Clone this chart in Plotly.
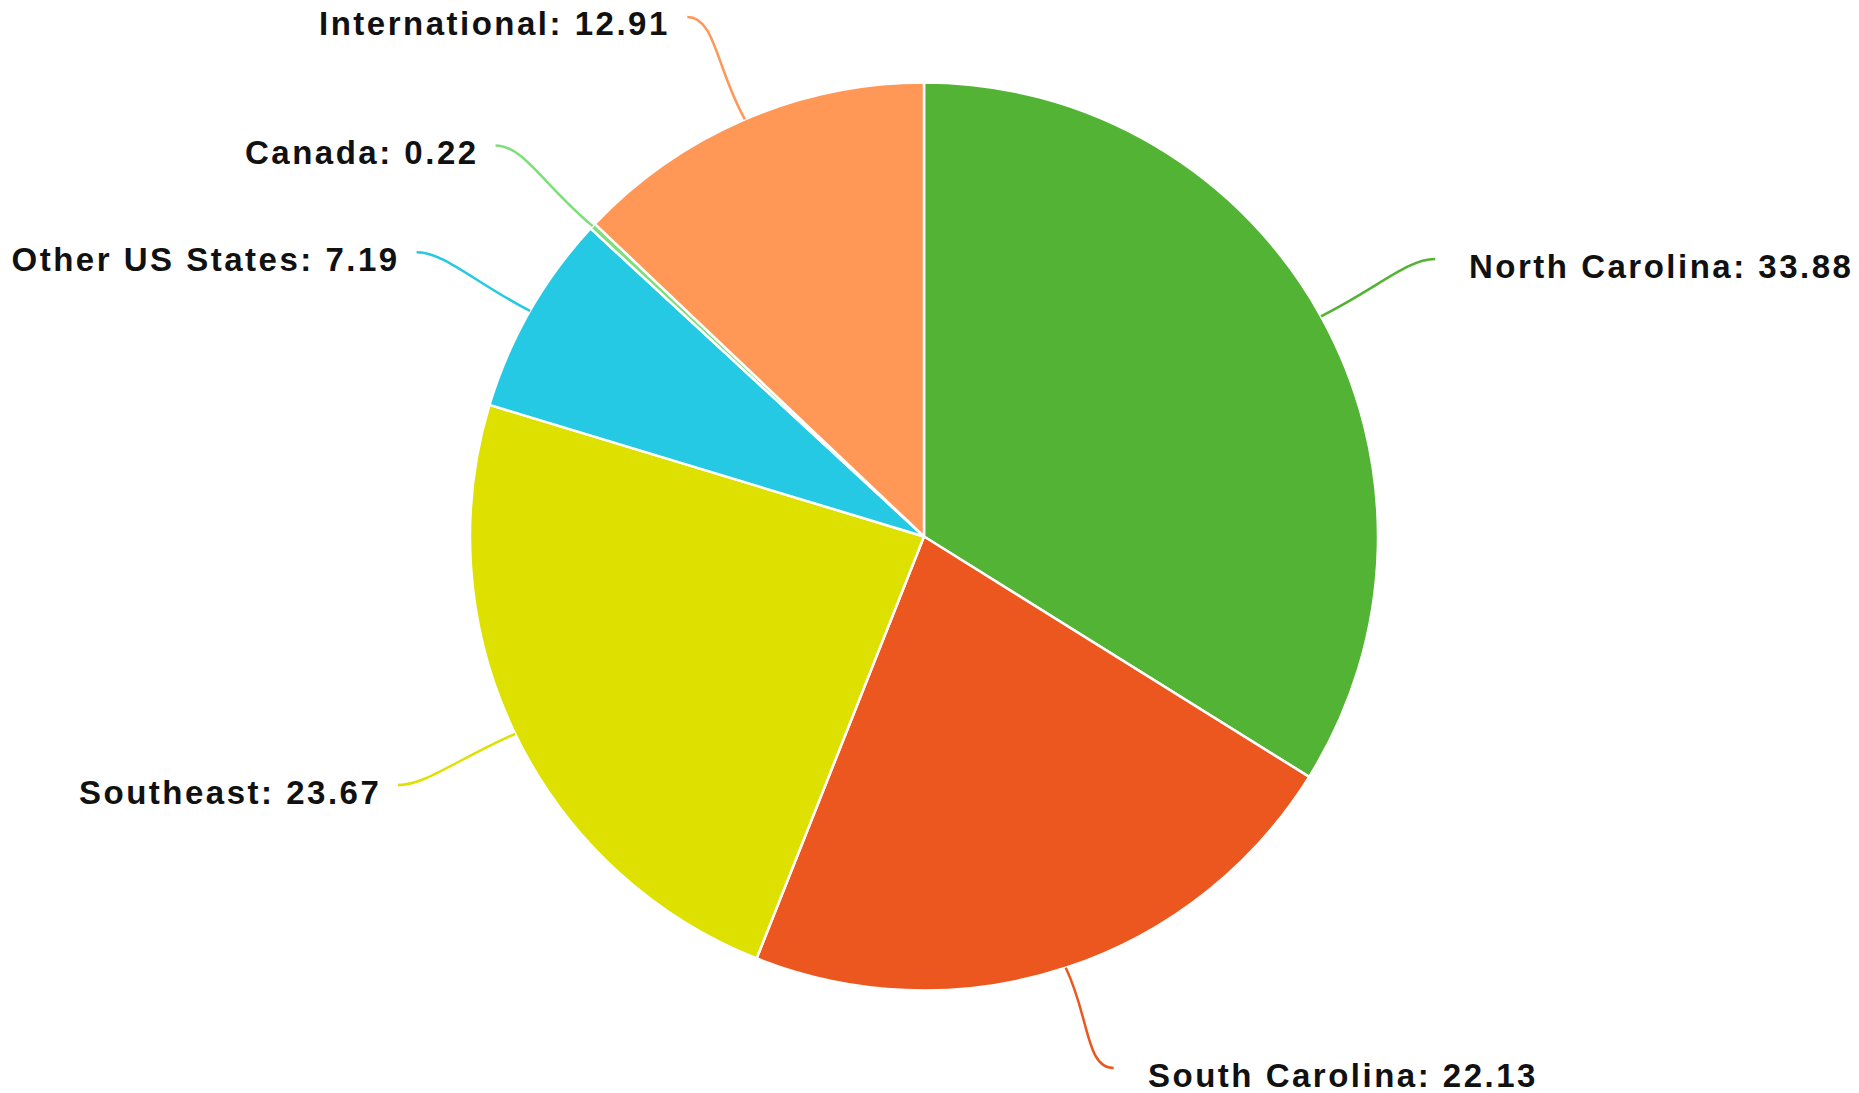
import math
import plotly.graph_objects as go

labels = ["North Carolina", "South Carolina", "Southeast", "Other US States", "Canada", "International"]
values = [33.88, 22.13, 23.67, 7.19, 0.22, 12.91]
colors = ["#52b335", "#eb571e", "#dee000", "#26c9e3", "#7edf7a", "#ff9757"]

W, H = 1859, 1093
CX, CY, R = 924, 536.5, 454
R_END = 572
X_EXT = 11

fig = go.Figure(go.Pie(
    labels=labels, values=values, sort=False, direction="clockwise", rotation=0,
    marker=dict(colors=colors, line=dict(color="#ffffff", width=2.5)),
    textinfo="none", hoverinfo="label+value", showlegend=False,
    domain=dict(x=[(CX - R) / W, (CX + R) / W], y=[1 - (CY + R) / H, 1 - (CY - R) / H]),
))

def px(x, y):
    return x / W, 1 - y / H

total = sum(values)
cum = 0.0
shapes, annotations = [], []
for lab, val, col in zip(labels, values, colors):
    mid = (cum + val / 2) / total * 2 * math.pi
    cum += val
    s, c = math.sin(mid), math.cos(mid)
    d = 1 if s >= 0 else -1
    x0, y0 = CX + R * s, CY - R * c
    x3, y3 = CX + R_END * s + d * X_EXT, CY - R_END * c
    ty = min(max(y3 + 7, 24), H - 18)
    y3 = ty - 7
    x1, y1 = (x0 + x3) / 2, (y0 + y3) / 2
    x2, y2 = x3 - d * 28, y3
    pts = [px(x0, y0), px(x1, y1), px(x2, y2), px(x3, y3)]
    path = "M{:.5f},{:.5f} C{:.5f},{:.5f} {:.5f},{:.5f} {:.5f},{:.5f}".format(
        *pts[0], *pts[1], *pts[2], *pts[3])
    shapes.append(dict(type="path", xref="paper", yref="paper", path=path,
                       line=dict(color=col, width=2.5)))
    gap = 32 if d > 0 else 15
    tx, tyy = px(x3 + d * gap, ty)
    annotations.append(dict(
        x=tx, y=tyy, xref="paper", yref="paper", showarrow=False,
        text=f"{lab}: {val:.2f}",
        xanchor="left" if d > 0 else "right", yanchor="middle",
        align="left" if d > 0 else "right",
        font=dict(family="Liberation Sans, Arial, Helvetica, sans-serif", size=33,
                  color="#111111", weight="bold"),
    ))

fig.update_layout(
    width=W, height=H, margin=dict(l=0, r=0, t=0, b=0),
    paper_bgcolor="#ffffff", plot_bgcolor="#ffffff",
    shapes=shapes, annotations=annotations,
)

post = """
document.body.style.margin = '0';
var gd = document.getElementById('{plot_id}');
gd.querySelectorAll('.annotation-text').forEach(function(t){ t.style.letterSpacing = '2.5px'; });
"""
fig.write_html("out.html", post_script=post, config={"displayModeBar": False})
